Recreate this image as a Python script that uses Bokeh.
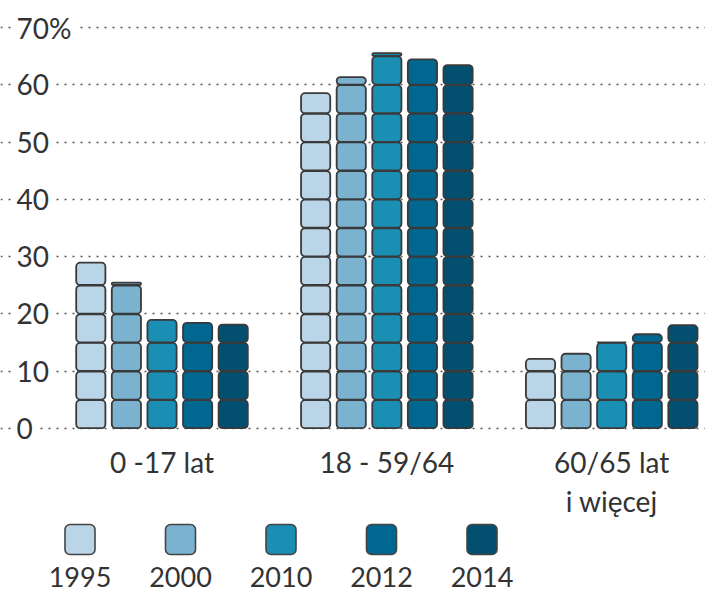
from bokeh.plotting import figure
from bokeh.models import ColumnDataSource, Grid, FixedTicker, Range1d
from bokeh.core.properties import value
from bokeh.embed import file_html
from bokeh.resources import INLINE

# ---- data ----
categories = ["0 -17 lat", "18 - 59/64", "60/65 lat\ni więcej"]
years = ["1995", "2000", "2010", "2012", "2014"]
v1995 = [29.0, 58.6, 12.2]
v2000 = [25.5, 61.4, 13.1]
v2010 = [19.0, 65.6, 15.1]
v2012 = [18.5, 64.5, 16.5]
v2014 = [18.2, 63.5, 18.1]
series = [v1995, v2000, v2010, v2012, v2014]
colors = ["#bad5e7", "#7ab2d0", "#1b8eb4", "#006791", "#034f70"]
y_ticks = [0, 10, 20, 30, 40, 50, 60, 70]
y_tick_labels = ["0", "10", "20", "30", "40", "50", "60", "70%"]
BLOCK = 5.0

# ---- layout (pixel-based scales) ----
W, H = 705, 594
PX_X = 35.6          # px per x-unit (bar pitch)
PX_Y = 5.728         # px per percentage point
GROUP_STEP = 6.316   # group pitch in bar units
X0 = 161.5           # page x of first group centre
Y0 = 428.0           # page y of value 0
x_start = (0 - X0) / PX_X
y_top = (Y0 - 0) / PX_Y
x_range = Range1d(x_start, x_start + W / PX_X)
y_range = Range1d(y_top - H / PX_Y, y_top)

def page_x(px):
    return (px - X0) / PX_X

def page_y(py):
    return (Y0 - py) / PX_Y

p = figure(width=W, height=H, x_range=x_range, y_range=y_range,
           output_backend="svg", toolbar_location=None,
           x_axis_type=None, y_axis_type=None, min_border=0)
p.outline_line_color = None
p.background_fill_color = "white"
p.border_fill_color = "white"

grid = Grid(dimension=1, ticker=FixedTicker(ticks=y_ticks),
            grid_line_color="#555555", grid_line_width=1.6,
            grid_line_dash="2 6")
p.add_layout(grid)

# ---- blocks ----
left, right, bottom, top, fill = [], [], [], [], []
bw = 0.82
gap = 0.05
for s, vals in enumerate(series):
    for g, v in enumerate(vals):
        xc = g * GROUP_STEP + (s - 2)
        k = 0
        while k * BLOCK < v - 1e-9:
            b = k * BLOCK
            t = min(b + BLOCK, v)
            left.append(xc - bw / 2)
            right.append(xc + bw / 2)
            bottom.append(b + gap)
            top.append(t - gap)
            fill.append(colors[s])
            k += 1

src = ColumnDataSource(dict(left=left, right=right, bottom=bottom, top=top, fill=fill))
p.quad(left="left", right="right", bottom="bottom", top="top", source=src,
       fill_color="fill", line_color="#3a3a3a", line_width=1.8, border_radius=4)

# ---- y tick labels ----
FONT = value("Lato")
tick_src = ColumnDataSource(dict(x=[page_x(11)] * len(y_ticks), y=y_ticks, t=y_tick_labels))
p.text(x="x", y="y", text="t", source=tick_src, text_font=FONT,
       text_font_size="28px", text_color="#333333", text_align="left",
       text_baseline="middle", background_fill_color="white", padding=5)

# ---- category labels ----
cat_src = ColumnDataSource(dict(x=[g * GROUP_STEP for g in range(len(categories))],
                                y=[page_y(444)] * len(categories), t=categories))
p.text(x="x", y="y", text="t", source=cat_src, text_font=FONT,
       text_font_size="28px", text_color="#333333", text_align="center",
       text_baseline="top", text_line_height=1.15)

# ---- legend ----
lx = [page_x(79.5) + i * (100.5 / PX_X) for i in range(len(years))]
leg_src = ColumnDataSource(dict(x=lx, y=[page_y(539)] * len(years), c=colors,
                                ly=[page_y(576)] * len(years), t=years))
p.rect(x="x", y="y", width=30, height=30, width_units="screen", height_units="screen",
       source=leg_src, fill_color="c", line_color="#444444", line_width=1.6,
       border_radius=5)
p.text(x="x", y="ly", text="t", source=leg_src, text_font=FONT,
       text_font_size="27px", text_color="#333333", text_align="center",
       text_baseline="middle")

open("out.html", "w").write(file_html(p, INLINE))
